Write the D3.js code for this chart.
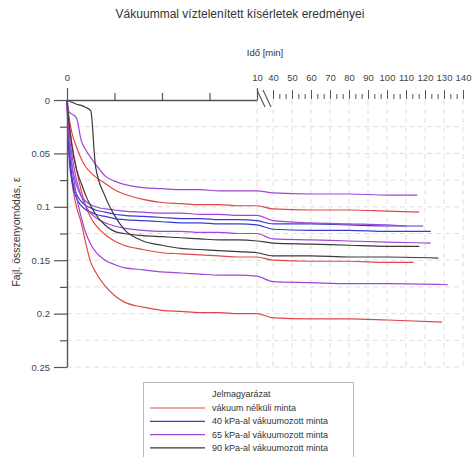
<!DOCTYPE html>
<html>
<head>
<meta charset="utf-8">
<script src="https://cdn.jsdelivr.net/npm/d3@7"></script>
<style>
  body { margin: 0; background: #fff; }
  svg { display: block; font-family: "Liberation Sans", Arial, sans-serif; }
</style>
</head>
<body>
<svg width="472" height="457"></svg>
<script>
// mérési időpontok (perc), közös minden görbére
const times = [0, 0.1, 0.25, 0.5, 0.75, 1, 1.25, 1.5, 2, 2.5, 3, 4, 5, 6, 7, 8, 9, 10, 40, 60, 80, 100];

// fajlagos összenyomódás értékek a fenti időpontokban + utolsó pont [t, eps]
const redA = [0, 0.015, 0.03, 0.044, 0.055, 0.063, 0.068, 0.072, 0.078, 0.084, 0.088, 0.093, 0.096, 0.097, 0.098, 0.098, 0.099, 0.099, 0.102, 0.103, 0.103, 0.104];
const redB = [0, 0.02, 0.04, 0.065, 0.085, 0.1, 0.11, 0.117, 0.126, 0.132, 0.136, 0.14, 0.143, 0.144, 0.145, 0.146, 0.147, 0.147, 0.15, 0.151, 0.151, 0.152];
const redC = [0, 0.045, 0.075, 0.1, 0.115, 0.135, 0.152, 0.161, 0.174, 0.183, 0.189, 0.194, 0.197, 0.198, 0.199, 0.199, 0.2, 0.2, 0.204, 0.205, 0.205, 0.206];
const blueA = [0, 0.04, 0.07, 0.088, 0.095, 0.099, 0.101, 0.103, 0.105, 0.107, 0.108, 0.109, 0.11, 0.111, 0.111, 0.112, 0.112, 0.113, 0.116, 0.116, 0.117, 0.118];
const blueB = [0, 0.05, 0.075, 0.092, 0.099, 0.103, 0.105, 0.107, 0.109, 0.111, 0.112, 0.113, 0.114, 0.115, 0.115, 0.116, 0.116, 0.117, 0.121, 0.122, 0.122, 0.123];
const purpleA = [0, 0.011, 0.013, 0.017, 0.038, 0.047, 0.054, 0.06, 0.071, 0.076, 0.079, 0.082, 0.083, 0.084, 0.084, 0.085, 0.085, 0.085, 0.087, 0.088, 0.088, 0.089];
const purpleB = [0, 0.035, 0.06, 0.08, 0.09, 0.095, 0.098, 0.1, 0.102, 0.103, 0.104, 0.105, 0.106, 0.106, 0.107, 0.107, 0.108, 0.108, 0.113, 0.115, 0.116, 0.117];
const purpleC = [0, 0.03, 0.05, 0.075, 0.09, 0.1, 0.106, 0.11, 0.115, 0.118, 0.12, 0.122, 0.123, 0.123, 0.124, 0.124, 0.125, 0.125, 0.13, 0.131, 0.132, 0.133];
const purpleD = [0, 0.03, 0.06, 0.09, 0.11, 0.125, 0.135, 0.142, 0.15, 0.154, 0.157, 0.159, 0.161, 0.162, 0.163, 0.164, 0.164, 0.165, 0.17, 0.171, 0.172, 0.172];
const blackA = [0, 0.02, 0.042, 0.065, 0.078, 0.09, 0.099, 0.107, 0.117, 0.123, 0.125, 0.127, 0.128, 0.129, 0.13, 0.131, 0.131, 0.132, 0.134, 0.135, 0.136, 0.137];
const blackB = [0, 0.001, 0.002, 0.004, 0.005, 0.007, 0.01, 0.062, 0.09, 0.108, 0.121, 0.132, 0.136, 0.139, 0.14, 0.141, 0.142, 0.143, 0.146, 0.146, 0.147, 0.147];

const seriesValues = [redA, redB, redC, blueA, blueB, purpleA, purpleB, purpleC, purpleD, blackA, blackB];
const seriesGroup = [0, 0, 0, 1, 1, 2, 2, 2, 2, 3, 3];
const seriesEnd = [[117, 0.105], [114, 0.152], [129, 0.208], [119, 0.118], [123, 0.123], [116, 0.089], [110, 0.118], [123, 0.134], [132, 0.173], [117, 0.137], [127, 0.148]];

const legendLabels = ["vákuum nélküli minta", "40 kPa-al vákuumozott minta", "65 kPa-al vákuumozott minta", "90 kPa-al vákuumozott minta"];
const groupColors = ["#e04848", "#3b3bd0", "#a046d8", "#3a3a3a"];

const leftTicks = [0, 2.5, 5, 7.5, 10];
const rightTicks = [40, 50, 60, 70, 80, 90, 100, 110, 120, 130, 140];
const yMajor = [0, 0.05, 0.1, 0.15, 0.2, 0.25];

const svg = d3.select("svg");

// skálák: megtört x tengely (0-10 és 40-140 perc)
const xLeft = d3.scaleLinear().domain([0, 10]).range([67, 257]);
const xRight = d3.scaleLinear().domain([40, 140]).range([273, 463]);
const x = t => (t <= 10 ? xLeft(t) : xRight(t));
const y = d3.scaleLinear().domain([0, 0.25]).range([100, 367]);

// rácsvonalak
const grid = svg.append("g").attr("stroke", "#d6d6d6").attr("stroke-width", 0.8).attr("stroke-dasharray", "5,4");
grid.selectAll(".hg")
  .data(d3.range(1, 11).map(i => i * 0.025))
  .enter().append("line")
  .attr("x1", 67).attr("x2", 463)
  .attr("y1", d => y(d)).attr("y2", d => y(d));
grid.selectAll(".vg")
  .data(rightTicks)
  .enter().append("line")
  .attr("x1", d => xRight(d)).attr("x2", d => xRight(d))
  .attr("y1", 100).attr("y2", 367);
grid.append("line").attr("x1", 257).attr("x2", 257).attr("y1", 100).attr("y2", 367);

// görbék
const line = d3.line().x(d => x(d[0])).y(d => y(d[1])).curve(d3.curveMonotoneX);
svg.append("g")
  .selectAll("path")
  .data(seriesValues.map((vals, i) => times.map((t, j) => [t, vals[j]]).concat([seriesEnd[i]])))
  .enter().append("path")
  .attr("fill", "none")
  .attr("stroke", (d, i) => groupColors[seriesGroup[i]])
  .attr("stroke-width", 1.2)
  .attr("d", line);

// y tengely
const yAxis = svg.append("g")
  .attr("transform", "translate(67,0)")
  .call(d3.axisLeft(y).tickValues(yMajor).tickSize(13).tickSizeOuter(0)
    .tickFormat(d => (d === 0 ? "0" : String(+d.toFixed(3)))));
yAxis.select(".domain").attr("stroke", "#555").attr("stroke-width", 1.4);
yAxis.selectAll(".tick line").attr("stroke", "#555").attr("stroke-width", 1.2);
yAxis.selectAll(".tick text").attr("font-size", 9.5).attr("fill", "#444").attr("x", -17);
svg.append("g")
  .attr("transform", "translate(67,0)")
  .call(d3.axisLeft(y).tickValues([0.025, 0.075, 0.125, 0.175, 0.225]).tickSize(7).tickFormat(""))
  .call(g => g.select(".domain").remove())
  .selectAll(".tick line").attr("stroke", "#555").attr("stroke-width", 1.2);

// felső tengely, bal szakasz
const topLeft = svg.append("g")
  .attr("transform", "translate(0,100)")
  .call(d3.axisTop(xLeft).tickValues(leftTicks).tickSizeOuter(0).tickFormat(d => (d === 0 || d === 10 ? d : "")));
topLeft.select(".domain").attr("stroke", "#555").attr("stroke-width", 1.4);
topLeft.selectAll(".tick line").attr("stroke", "#555").attr("stroke-width", 1.2)
  .attr("y2", d => (d === 0 || d === 10 ? -12 : -7));
topLeft.selectAll(".tick text").attr("font-size", 9.5).attr("fill", "#444").attr("y", -19);

// felső tengely, jobb szakasz
const topRight = svg.append("g")
  .attr("transform", "translate(0,99)")
  .call(d3.axisTop(xRight).tickValues(rightTicks).tickSize(9).tickSizeOuter(0));
topRight.select(".domain").remove();
topRight.selectAll(".tick line").attr("stroke", "#555").attr("stroke-width", 1);
topRight.selectAll(".tick text").attr("font-size", 9.5).attr("fill", "#444").attr("y", -18);
svg.append("g")
  .attr("transform", "translate(0,99)")
  .call(d3.axisTop(xRight).tickValues(d3.range(40, 140, 10).flatMap(v => [v + 10 / 3, v + 20 / 3])).tickSize(5).tickFormat(""))
  .call(g => g.select(".domain").remove())
  .selectAll(".tick line").attr("stroke", "#555").attr("stroke-width", 1);

// törésjel
svg.append("g").attr("stroke", "#555").attr("stroke-width", 1.1)
  .selectAll("line").data([0, 6]).enter().append("line")
  .attr("x1", d => 257 + d).attr("y1", 90)
  .attr("x2", d => 265 + d).attr("y2", 107);

// feliratok
svg.append("text").attr("x", 240).attr("y", 18).attr("text-anchor", "middle")
  .attr("font-size", 12).attr("fill", "#333").text("Vákuummal víztelenített kísérletek eredményei");
svg.append("text").attr("x", 265).attr("y", 56).attr("text-anchor", "middle")
  .attr("font-size", 9.5).attr("fill", "#333").text("Idő [min]");
svg.append("text").attr("transform", "translate(20,232) rotate(-90)").attr("text-anchor", "middle")
  .attr("font-size", 10.5).attr("fill", "#333").text("Fajl. összenyomódás, ε");

// jelmagyarázat
const legend = svg.append("g");
legend.append("rect").attr("x", 143.5).attr("y", 382.5).attr("width", 210).attr("height", 90)
  .attr("fill", "#fff").attr("stroke", "#bbb");
legend.append("text").attr("x", 212).attr("y", 397).attr("font-size", 9).attr("fill", "#333").text("Jelmagyarázat");
const items = legend.selectAll(".item").data(legendLabels).enter().append("g")
  .attr("transform", (d, i) => `translate(0,${408 + i * 13.3})`);
items.append("line").attr("x1", 150).attr("x2", 205)
  .attr("stroke", (d, i) => groupColors[i]).attr("stroke-width", 1.2);
items.append("text").attr("x", 212).attr("y", 3).attr("font-size", 9).attr("fill", "#333").text(d => d);
</script>
</body>
</html>
